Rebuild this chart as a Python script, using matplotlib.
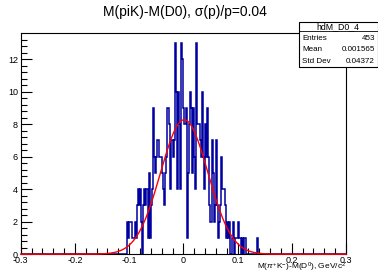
import numpy as np
import matplotlib
matplotlib.use("Agg")
import matplotlib.pyplot as plt
from matplotlib.ticker import MultipleLocator

plt.rcParams.update({
    "font.family": ["Liberation Sans", "DejaVu Sans"],
    "mathtext.fontset": "custom",
    "mathtext.rm": "Liberation Sans",
    "mathtext.it": "Liberation Sans:italic",
})

# histogram binning (ROOT TH1, 300 bins over [-0.3, 0.3])
x_lo, x_hi, n_bins = -0.3, 0.3, 300
first_filled = -0.106          # left edge of the first listed bin
counts = [
    0, 2, 1, 2, 2, 2, 1, 1, 2, 1, 3, 4, 3, 4, 2, 0, 3, 4, 3, 4, 1, 5, 1, 3,
    4, 9, 6, 5, 6, 7, 7, 6,
    6, 5, 4, 3, 5, 6, 9, 9, 8, 4, 7, 6, 7, 13, 10, 4, 10, 8, 4, 13, 12, 9,
    8, 9, 1, 5, 8,
    10, 9, 5, 9, 6, 4, 13, 8, 8, 7, 6, 10, 6, 4, 8, 6, 9, 6, 3, 2, 7, 5, 2,
    3, 7, 3, 1, 2,
    3, 6, 4, 4, 3, 1, 2, 1, 2, 0, 0, 1, 2, 0, 1, 1, 2, 1, 1, 0, 1, 0, 1, 1,
    0, 0, 0, 0, 0, 0, 0, 0, 0, 0, 1,
]

# gaussian fit parameters
fit_amp, fit_mean, fit_sigma = 8.27, 0.0016, 0.0437

stats_name = "hdM_D0_4"
stats_rows = [("Entries", "453"), ("Mean", "0.001565"), ("Std Dev", "0.04372")]

edges = np.linspace(x_lo, x_hi, n_bins + 1)
full = np.zeros(n_bins)
i0 = int(round((first_filled - x_lo) / (edges[1] - edges[0])))
full[i0:i0 + len(counts)] = counts

W, H = 378, 276
fig = plt.figure(figsize=(W / 100, H / 100), dpi=100)
ax = fig.add_axes([20.7 / W, 1 - 254.2 / H, (346 - 20.7) / W, (254.2 - 33.3) / H])

ax.stairs(full, edges, color="#0000a0", lw=1.1)
xf = np.linspace(x_lo, x_hi, 600)
ax.plot(xf, fit_amp * np.exp(-0.5 * ((xf - fit_mean) / fit_sigma) ** 2),
        color="#ff0000", lw=1.0, clip_on=False, zorder=5)

ax.set_xlim(x_lo, x_hi)
ax.set_ylim(0, 13.59)
ax.xaxis.set_major_locator(MultipleLocator(0.1))
ax.xaxis.set_minor_locator(MultipleLocator(0.02))
ax.yaxis.set_major_locator(MultipleLocator(2))
ax.yaxis.set_minor_locator(MultipleLocator(0.4))
ax.tick_params(which="both", direction="in", top=False, right=False,
               labelsize=6.5, width=0.8, pad=2)
ax.tick_params(axis="x", pad=1.2)
ax.tick_params(which="major", length=8)
ax.tick_params(which="minor", length=4)
ax.set_xticklabels([f"{v:g}" if abs(v) > 1e-9 else "0" for v in ax.get_xticks()])
for s in ax.spines.values():
    s.set_linewidth(0.8)

fig.text(185 / W, 1 - 12 / H, "M(piK)-M(D0), σ(p)/p=0.04", ha="center", va="center",
         fontsize=10)
fig.text(346 / W, 2.5 / H, r"M($\pi^{+}$K$^{-}$)-M(D$^{0}$), GeV/c$^{2}$",
         ha="right", va="bottom", fontsize=6.0)

# stats box
sb = fig.add_axes([299 / W, 1 - 66.7 / H, 78.5 / W, 45 / H])
sb.set_xlim(0, 78.5)
sb.set_ylim(45, 0)
sb.axis("off")
sb.add_patch(plt.Rectangle((0, 0), 78.5, 45, facecolor="white", edgecolor="black",
                           lw=0.8, clip_on=False))
sb.plot([0, 78.5], [9.6, 9.6], color="black", lw=0.6)
sb.text(39, 4.6, stats_name, ha="center", va="center", fontsize=6.3)
for k, (lab, val) in enumerate(stats_rows):
    y = 17 + k * 11.2
    sb.text(3, y, lab, ha="left", va="center", fontsize=5.8)
    sb.text(76, y, val, ha="right", va="center", fontsize=5.8)

fig.savefig("out.png", dpi=100)
